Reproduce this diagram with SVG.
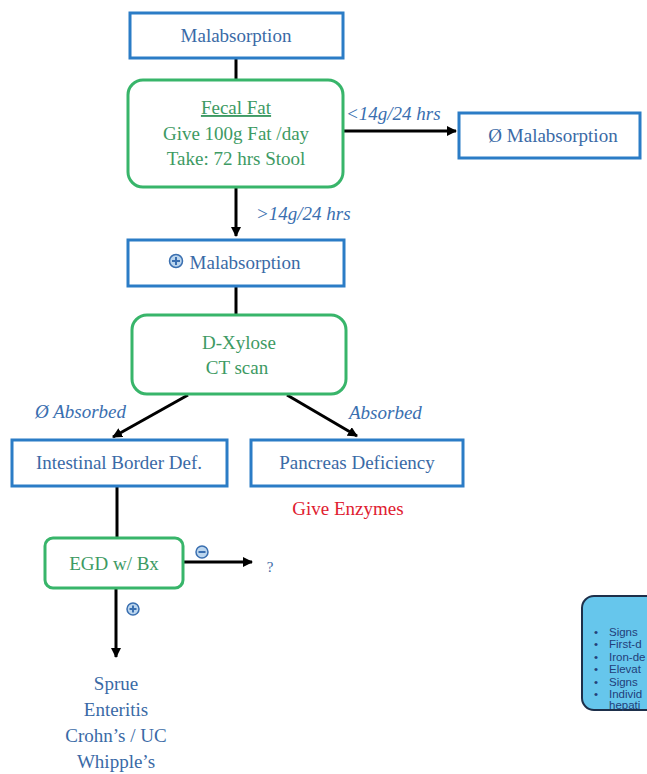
<svg xmlns="http://www.w3.org/2000/svg" width="647" height="774" viewBox="0 0 647 774">
<defs>
<marker id="ah" markerWidth="10" markerHeight="10" refX="9" refY="5" orient="auto" markerUnits="userSpaceOnUse" viewBox="0 0 10 10">
<path d="M0,0 L10,5 L0,10 z" fill="#000"/>
</marker>
<style>
.bbox{fill:#fff;stroke:#2b7cc6;stroke-width:3}
.gbox{fill:#fff;stroke:#38b56a;stroke-width:3}
.bt{font-family:"Liberation Serif",serif;font-size:19px;fill:#3a6aa6;text-anchor:middle}
.gt{font-family:"Liberation Serif",serif;font-size:19px;fill:#3d9a63;text-anchor:middle}
.lbl{font-family:"Liberation Serif",serif;font-size:19px;font-style:italic;fill:#3a6fb0}
.con{stroke:#000;stroke-width:3;fill:none}
.sym{fill:#bcd6ee;stroke:#3a6fb0;stroke-width:1.5}
.bul{font-family:"Liberation Sans",sans-serif;font-size:11.5px;fill:#23407a}
</style>
</defs>
<rect width="647" height="774" fill="#fff"/>
<g id="connectors">
<line class="con" x1="236" y1="58" x2="236" y2="80"/>
<line class="con" x1="343" y1="131" x2="456" y2="131" marker-end="url(#ah)"/>
<line class="con" x1="236" y1="187" x2="236" y2="236" marker-end="url(#ah)"/>
<line class="con" x1="236" y1="286" x2="236" y2="315"/>
<line class="con" x1="188" y1="395" x2="113" y2="437" marker-end="url(#ah)"/>
<line class="con" x1="287" y1="395" x2="357" y2="436" marker-end="url(#ah)"/>
<line class="con" x1="117" y1="486" x2="117" y2="538"/>
<line class="con" x1="183" y1="562" x2="252" y2="562" marker-end="url(#ah)"/>
<line class="con" x1="116" y1="588" x2="116" y2="657" marker-end="url(#ah)"/>
<text class="lbl" x="346" y="120">&lt;14g/24 hrs</text>
<text class="lbl" x="256" y="220">&gt;14g/24 hrs</text>
<text class="lbl" x="35" y="418">Ø Absorbed</text>
<text class="lbl" x="349" y="419">Absorbed</text>
<g id="minus-sym">
<circle class="sym" cx="202" cy="552" r="6"/>
<line x1="198.5" y1="552" x2="205.5" y2="552" stroke="#3a6fb0" stroke-width="2"/>
</g>
<g id="plus-sym">
<circle class="sym" cx="133" cy="609" r="6"/>
<line x1="129.5" y1="609" x2="136.5" y2="609" stroke="#3a6fb0" stroke-width="2"/>
<line x1="133" y1="605.5" x2="133" y2="612.5" stroke="#3a6fb0" stroke-width="2"/>
</g>
</g>
<g id="malabsorption">
<rect class="bbox" x="130" y="13" width="213" height="45"/>
<text class="bt" x="236" y="42">Malabsorption</text>
</g>
<g id="fecal-fat">
<rect class="gbox" x="128" y="80" width="215" height="107" rx="15"/>
<text class="gt" x="236" y="114" text-decoration="underline">Fecal Fat</text>
<text class="gt" x="236" y="140">Give 100g Fat /day</text>
<text class="gt" x="236" y="165">Take: 72 hrs Stool</text>
</g>
<g id="no-malabsorption">
<rect class="bbox" x="459" y="113" width="181" height="45"/>
<text class="bt" x="553" y="142">Ø Malabsorption</text>
</g>
<g id="pos-malabsorption">
<rect class="bbox" x="128" y="240" width="216" height="46"/>
<circle class="sym" cx="176" cy="261" r="6.5"/>
<line x1="172" y1="261" x2="180" y2="261" stroke="#3a6fb0" stroke-width="2"/>
<line x1="176" y1="257" x2="176" y2="265" stroke="#3a6fb0" stroke-width="2"/>
<text class="bt" x="245" y="269">Malabsorption</text>
</g>
<g id="d-xylose">
<rect class="gbox" x="132" y="315" width="214" height="79" rx="15"/>
<text class="gt" x="239" y="349">D-Xylose</text>
<text class="gt" x="237" y="374">CT scan</text>
</g>
<g id="intestinal">
<rect class="bbox" x="12" y="440" width="215" height="46"/>
<text class="bt" x="119" y="469">Intestinal Border Def.</text>
</g>
<g id="pancreas">
<rect class="bbox" x="251" y="440" width="212" height="46"/>
<text class="bt" x="357" y="469">Pancreas Deficiency</text>
<text class="bt" x="348" y="515" style="fill:#e02030">Give Enzymes</text>
</g>
<g id="egd">
<rect class="gbox" x="45" y="538" width="138" height="50" rx="8"/>
<text class="gt" x="114" y="570">EGD w/ Bx</text>
</g>
<g id="unknown">
<text class="bt" x="270" y="572" style="font-size:15px">?</text>
</g>
<g id="diagnoses">
<text class="bt" x="116" y="690">Sprue</text>
<text class="bt" x="116" y="716">Enteritis</text>
<text class="bt" x="116" y="742">Crohn’s / UC</text>
<text class="bt" x="116" y="768">Whipple’s</text>
</g>
<g id="side-box">
<rect x="582" y="596" width="90" height="114" rx="12" fill="#66c6ec" stroke="#1d2f4a" stroke-width="2"/>
<g class="bul">
<text x="594" y="636">•</text><text x="609" y="636">Signs</text>
<text x="594" y="648">•</text><text x="609" y="648">First-d</text>
<text x="594" y="661">•</text><text x="609" y="661">Iron-de</text>
<text x="594" y="673">•</text><text x="609" y="673">Elevat</text>
<text x="594" y="686">•</text><text x="609" y="686">Signs</text>
<text x="594" y="698">•</text><text x="609" y="698">Individ</text>
<text x="609" y="709">hepati</text>
</g>
</g>
</svg>
